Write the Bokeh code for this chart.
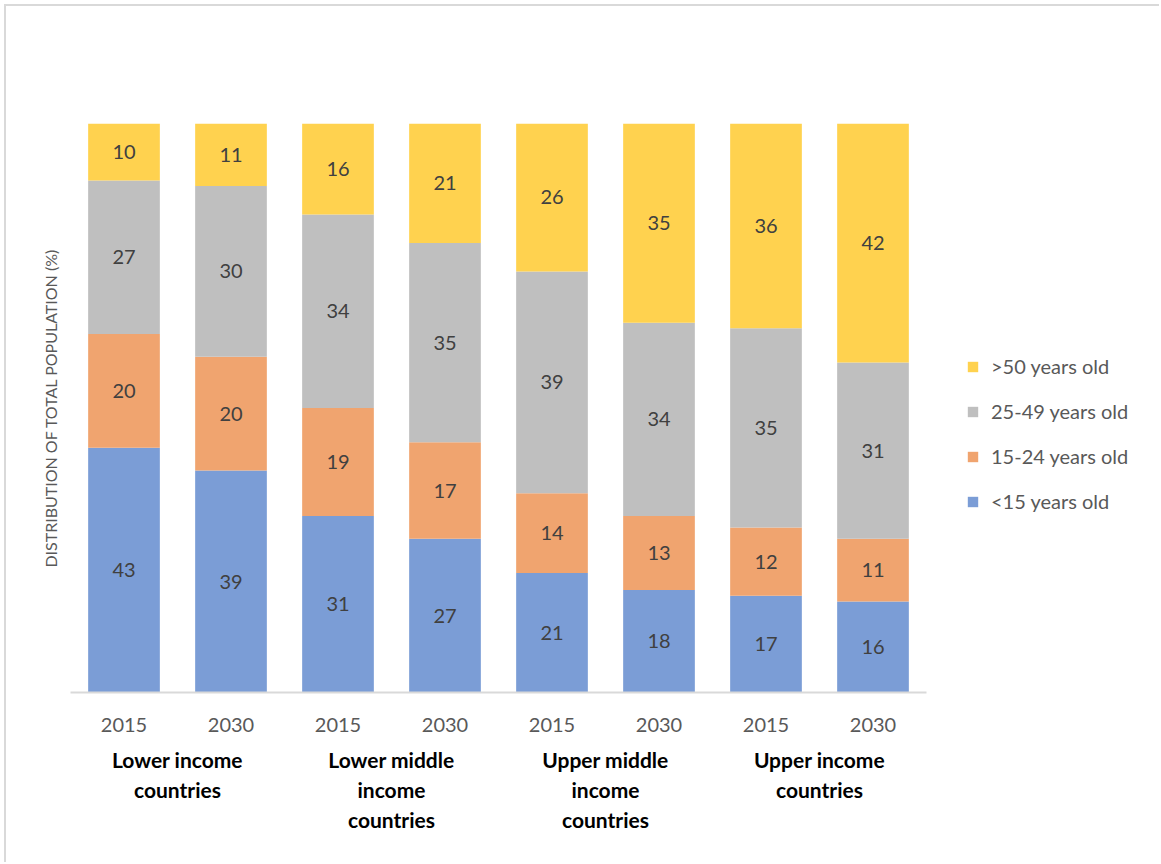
from bokeh.plotting import figure
from bokeh.models import (ColumnDataSource, Range1d, FixedTicker, Legend, LegendItem,
                          LinearAxis)
from bokeh.core.properties import value
from bokeh.embed import file_html
from bokeh.resources import INLINE

# ---- data ----
years = ["2015", "2030", "2015", "2030", "2015", "2030", "2015", "2030"]
groups = ["Lower income\ncountries", "Lower middle\nincome\ncountries",
          "Upper middle\nincome\ncountries", "Upper income\ncountries"]
under15 = [43, 39, 31, 27, 21, 18, 17, 16]
age15_24 = [20, 20, 19, 17, 14, 13, 12, 11]
age25_49 = [27, 30, 34, 35, 39, 34, 35, 31]
over50 = [10, 11, 16, 21, 26, 35, 36, 42]
series_names = ["<15 years old", "15-24 years old", "25-49 years old", ">50 years old"]
series_values = [under15, age15_24, age25_49, over50]
colors = ["#7B9DD6", "#F0A46F", "#BFBFBF", "#FFD24F"]

FONT = "Lato"
W, H = 1161, 864
LEFT, TOP, BOTTOM = 64, 117, 172
PLOT_W = 856  # width in px occupied by the 8 bar slots
n = len(years)
x_end = n * (W - 6 - LEFT) / PLOT_W

xs = [i + 0.5 for i in range(n)]
group_centers = [2 * i + 1 for i in range(len(groups))]

p = figure(width=W - 6, height=H - 6, output_backend="svg", toolbar_location=None,
           x_range=Range1d(0, x_end), y_range=Range1d(0, 100),
           min_border_left=LEFT, min_border_right=0,
           min_border_top=TOP, min_border_bottom=BOTTOM)
p.styles = {"border-left": "2px solid #D9D9D9", "border-top": "2px solid #D9D9D9",
            "margin-left": "4px", "margin-top": "4px"}
p.outline_line_color = None
p.xgrid.visible = False
p.ygrid.visible = False

renderers = []
bottom = [0] * n
for name, vals, col in zip(series_names, series_values, colors):
    top = [b + v for b, v in zip(bottom, vals)]
    src = ColumnDataSource(dict(x=xs, bottom=bottom, top=top, val=[str(v) for v in vals],
                                mid=[(b + t) / 2 for b, t in zip(bottom, top)]))
    r = p.vbar(x="x", bottom="bottom", top="top", width=0.67, source=src,
               fill_color=col, line_color=None)
    p.text(x="x", y="mid", text="val", source=src, text_align="center",
           text_baseline="middle", text_font=value(FONT), text_font_size="20px",
           text_color="#404040")
    renderers.append((name, r))
    bottom = top

# x axis: years
xa = p.xaxis[0]
xa.ticker = FixedTicker(ticks=xs)
xa.major_label_overrides = {x: y for x, y in zip(xs, years)}
xa.major_label_text_font = FONT
xa.major_label_text_font_size = "20px"
xa.major_label_text_color = "#595959"
xa.major_label_standoff = 19
xa.major_tick_line_color = None
xa.minor_tick_line_color = None
xa.axis_line_color = "#D9D9D9"
xa.axis_line_width = 2
xa.bounds = (0, n)

# second x axis: income groups
ga = LinearAxis(ticker=FixedTicker(ticks=group_centers),
                major_label_overrides={c: g for c, g in zip(group_centers, groups)},
                major_label_text_font=FONT, major_label_text_font_size="21px",
                major_label_text_font_style="bold", major_label_text_color="#000000",
                major_label_text_line_height=1.2, major_label_standoff=6,
                major_tick_line_color=None, minor_tick_line_color=None,
                axis_line_color=None, bounds=(0, n))
p.add_layout(ga, "below")

# y axis: label only
p.yaxis.ticker = FixedTicker(ticks=[])
p.yaxis.bounds = (0, 100)
p.yaxis.axis_line_color = None
p.yaxis.major_tick_line_color = None
p.yaxis.minor_tick_line_color = None
p.yaxis.major_tick_out = 0
p.yaxis.major_label_standoff = 0
p.yaxis.axis_label = "DISTRIBUTION OF TOTAL POPULATION (%)"
p.yaxis.axis_label_text_font = FONT
p.yaxis.axis_label_text_font_size = "16px"
p.yaxis.axis_label_text_font_style = "normal"
p.yaxis.axis_label_text_color = "#595959"
p.yaxis.axis_label_standoff = 11

# legend inside the (widened) frame, right of the bars (reverse order)
items = [LegendItem(label=nm, renderers=[r]) for nm, r in reversed(renderers)]
legend = Legend(items=items, location=(896, 179), glyph_width=13, glyph_height=13,
                label_height=24, spacing=21, padding=5, margin=0,
                label_text_font=FONT, label_text_font_size="20px",
                label_text_color="#595959", label_standoff=12,
                border_line_color=None, background_fill_alpha=0)
p.add_layout(legend)

open("out.html", "w").write(file_html(p, INLINE))
